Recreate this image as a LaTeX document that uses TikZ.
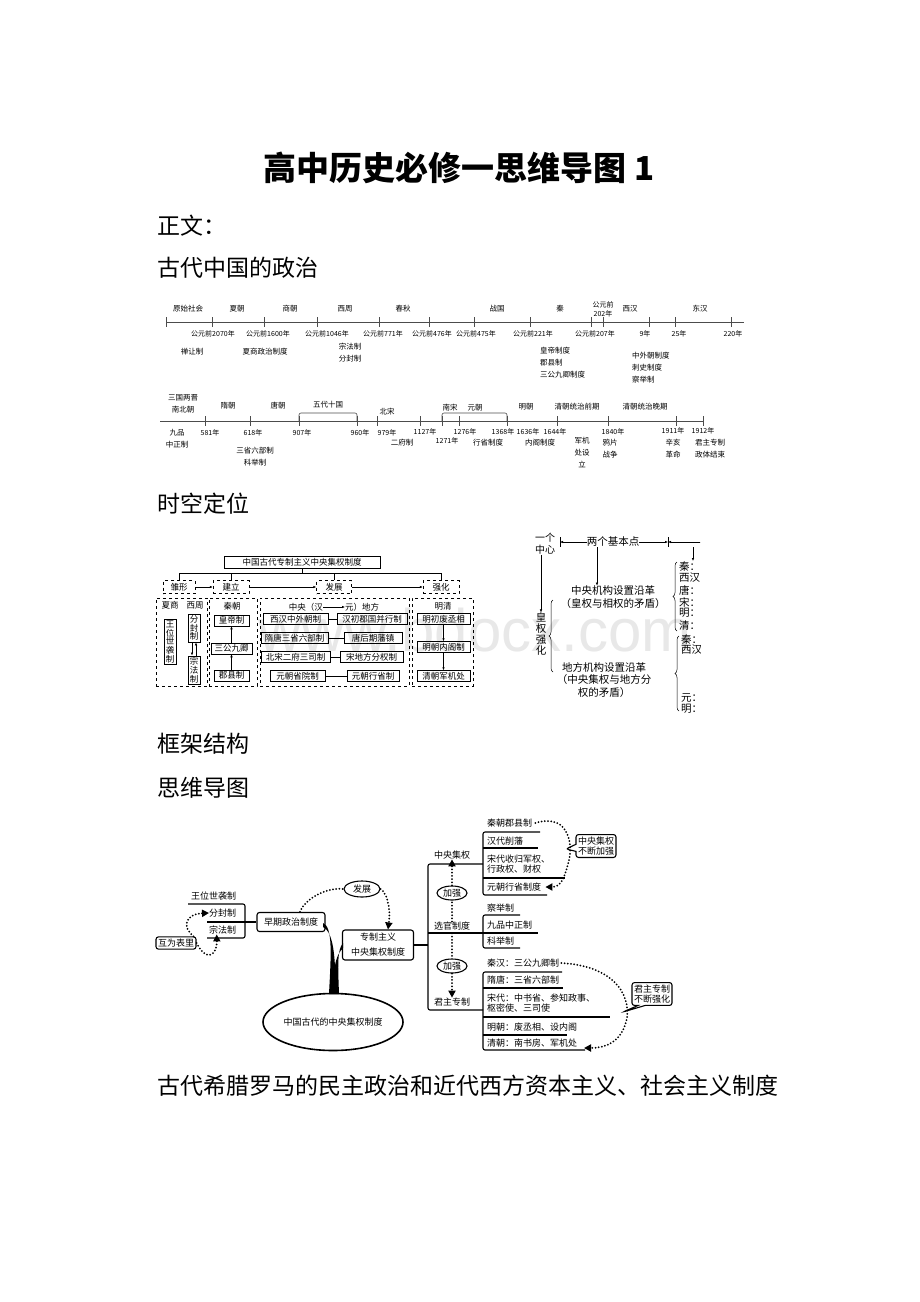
\documentclass[tikz,border=0pt]{standalone}
\usepackage{fontspec}
\setmainfont{Noto Sans CJK SC}
\newfontfamily\markfont{Liberation Sans}
\usetikzlibrary{positioning, arrows.meta, calc, shapes.geometric, shapes.callouts, decorations.pathreplacing}
\tikzset{
  heading/.style={anchor=west, inner sep=0pt, font=\fontsize{23}{25}\selectfont}, % lines of the page text
  lbl/.style={inner sep=0pt, align=center, font=\fontsize{7.5}{12}\selectfont}, % timeline texts
  tline/.style={draw=black!70, line width=0.6pt},
  tickmark/.style={draw=black!70, line width=0.6pt},
  fbox/.style={draw, line width=0.5pt, inner sep=1pt, minimum height=11pt, font=\fontsize{8.5}{9}\selectfont},
  dbox/.style={draw, dashed, line width=0.5pt, inner sep=1pt, font=\fontsize{8.5}{9}\selectfont},
  vbox/.style={draw, line width=0.5pt, inner sep=1.5pt, align=center, font=\fontsize{8.5}{8.8}\selectfont},
  ptext/.style={inner sep=0pt, font=\fontsize{8.5}{10}\selectfont},
  rtext/.style={inner sep=0pt, align=center, font=\fontsize{10.5}{12.5}\selectfont},
  arr/.style={-{Latex[length=3pt,width=2.5pt]}, line width=0.5pt},
  mbox/.style={draw, line width=1.1pt, rounded corners=2.5pt, inner sep=2pt, font=\fontsize{9}{15}\selectfont},
  mtext/.style={inner sep=0pt, anchor=west, align=left, font=\fontsize{9}{10.5}\selectfont},
  oval/.style={draw, ellipse, line width=1.1pt, inner sep=0pt, font=\fontsize{9}{10}\selectfont},
  dots/.style={line width=2pt, dash pattern=on 0pt off 3.2pt, line cap=round}, % dotted arrows of the mind map
  tri/.style={-{Triangle[length=7pt,width=7pt]}},
  rail/.style={line width=1.1pt, rounded corners=2pt},
}

\begin{document}
\begin{tikzpicture}[x=1pt, y=-1pt]
\useasboundingbox (0,0) rectangle (920,1302);

% page text
\node[inner sep=0pt, font=\fontsize{33}{36}\selectfont\bfseries] (title) at (459,168) {高中历史必修一思维导图 1};
\node[heading] (zhengwen) at (157,226) {正文：};
\node[heading] (gudai) at (157,268) {古代中国的政治};
\node[heading] (shikong) at (157,504) {时空定位};
\node[heading] (kuangjia) at (157,744) {框架结构};
\node[heading] (siwei) at (157,788) {思维导图};
\node[heading] (xila) at (157,1086) {古代希腊罗马的民主政治和近代西方资本主义、社会主义制度};

% timeline one
\coordinate (a0) at (166,322);
\coordinate (a1) at (744,322);
\draw[tline] (a0) -- (a1);
\foreach \x in {166,212,264,317,379,429,474,530,591,603,649,675,731}
  \draw[tickmark] (\x,317) -- (\x,327);
\foreach \x/\t [count=\i] in {188/原始社会, 237/夏朝, 290/商朝, 345/西周, 403/春秋, 497/战国, 560/秦, 630/西汉, 700/东汉}
  \node[lbl] (up\i) at (\x,309) {\t};
\node[lbl, font=\fontsize{7}{9}\selectfont] (up10) at (603,309) {公元前\\202年};
\foreach \x/\t [count=\i] in {213/公元前2070年, 268/公元前1600年, 327/公元前1046年, 383/公元前771年, 432/公元前476年, 476/公元前475年, 533/公元前221年, 595/公元前207年, 645/9年, 679/25年, 733/220年}
  \node[lbl, font=\fontsize{7}{9}\selectfont] (dn\i) at (\x,334) {\t};
\node[lbl] (shan) at (192,352) {禅让制};
\node[lbl] (xiashang) at (265,352) {夏商政治制度};
\node[lbl] (zongfen) at (350,353) {宗法制\\分封制};
\node[lbl, anchor=north west, align=left] (qinzhi) at (540,347) {皇帝制度\\郡县制\\三公九卿制度};
\node[lbl, anchor=north west, align=left] (hanzhi) at (632,352) {中外朝制度\\刺史制度\\察举制};

% timeline two
\coordinate (b0) at (160,421);
\coordinate (b1) at (703,421);
\draw[tline] (b0) -- (b1);
\foreach \x in {205,250,299,357,377,420,442,459,507,557,608,676,703}
  \draw[tickmark] (\x,416) -- (\x,426);
\draw[tline, rounded corners=2pt] (299,421) -- (299,413) -- (357,413) -- (357,421);
\draw[tline, rounded corners=2pt] (442,421) -- (442,413) -- (507,413) -- (507,421);
\node[lbl] (sanguo) at (183,404) {三国两晋\\南北朝};
\foreach \x/\y/\t [count=\i] in {228/406/隋朝, 278/406/唐朝, 328/405/五代十国, 387/412/北宋, 450/408/南宋, 475/408/元朝, 526/407/明朝, 577/407/清朝统治前期, 645/407/清朝统治晚期}
  \node[lbl] (dyn\i) at (\x,\y) {\t};
\foreach \x/\y/\t [count=\i] in {210/433/581年, 253/433/618年, 302/433/907年, 360/433/960年, 387/433/979年, 425/432/1127年, 447/441/1271年, 465/432/1276年, 503/432/1368年, 528/432/1636年, 555/432/1644年, 613/432/1840年, 673/431/1911年, 703/431/1912年}
  \node[lbl, font=\fontsize{7}{9}\selectfont] (yr\i) at (\x,\y) {\t};
\node[lbl] (jiupin) at (177,439) {九品\\中正制};
\node[lbl] (erfu) at (402,443) {二府制};
\node[lbl] (sansheng) at (255,457) {三省六部制\\科举制};
\node[lbl] (xingsheng) at (488,443) {行省制度};
\node[lbl] (neige) at (540,443) {内阁制度};
\node[lbl, anchor=north] (junji) at (582,437) {军机\\处设\\立};
\node[lbl] (yapian) at (610,449) {鸦片\\战争};
\node[lbl] (xinhai) at (673,449) {辛亥\\革命};
\node[lbl] (zhuanjie) at (710,449) {君主专制\\政体结束};

% watermark
\node[inner sep=0pt, text=black!9, font=\markfont\fontsize{60}{60}\selectfont] (mark) at (475,630) {www.bdocx.com};

% framework, left
\node[fbox, minimum width=156pt, minimum height=12pt] (root) at (302,562) {中国古代专制主义中央集权制度};
\node[dbox, minimum width=32pt, minimum height=13pt] (s1) at (179,587) {雏形};
\node[dbox, minimum width=36pt, minimum height=13pt] (s2) at (231,587) {建立};
\node[dbox, minimum width=35pt, minimum height=13pt] (s3) at (334,587) {发展};
\node[dbox, minimum width=36pt, minimum height=13pt] (s4) at (441,587) {强化};
\foreach \s in {s1,s2,s3,s4}
  \draw[line width=0.5pt] (root.south) -- ++(0,5) -| (\s.north);
\draw[arr] (s1) -- (s2);
\draw[arr] (s2) -- (s3);
\draw[arr] (s3) -- (s4);
\node[dbox, minimum width=51pt, minimum height=88pt] (p1) at (181.5,642) {};
\node[dbox, minimum width=48pt, minimum height=88pt] (p2) at (233,642) {};
\node[dbox, minimum width=149pt, minimum height=88pt] (p3) at (334.5,642) {};
\node[dbox, minimum width=61pt, minimum height=88pt] (p4) at (442.5,642) {};
% xia shang, xi zhou
\node[ptext] (xs) at (170,605) {夏商};
\node[ptext] (xz) at (195,605) {西周};
\node[vbox] (wangwei) at (170,642) {王\\位\\世\\袭\\制};
\node[vbox] (fenfeng) at (194,628) {分\\封\\制};
\node[vbox] (zongfa) at (194,670) {宗\\法\\制};
\draw[arr] ([xshift=-2pt]fenfeng.south) -- ([xshift=-2pt]zongfa.north);
\draw[arr] ([xshift=2pt]zongfa.north) -- ([xshift=2pt]fenfeng.south);
% qin
\node[ptext] (qinchao) at (232,606) {秦朝};
\node[fbox, minimum width=35pt] (huangdi) at (231.5,620.5) {皇帝制};
\node[fbox, minimum width=41pt] (sangong) at (231.5,648.5) {三公九卿};
\node[fbox, minimum width=35pt] (junxian) at (231.5,675.5) {郡县制};
\draw[arr] (junxian) -- (sangong);
\draw[arr] (sangong) -- (huangdi);
% han to yuan
\node[ptext, anchor=east] (hdl) at (323,607) {中央（汉};
\node[ptext, anchor=west] (hdr) at (345,607) {元）地方};
\draw[arr] (hdl) -- (hdr);
\node[fbox, minimum width=65pt] (l1) at (295.5,619) {西汉中外朝制};
\node[fbox, minimum width=67pt] (l2) at (294.5,638) {隋唐三省六部制};
\node[fbox, minimum width=69pt] (l3) at (295.5,657) {北宋二府三司制};
\node[fbox, minimum width=55pt] (l4) at (297.5,676) {元朝省院制};
\node[fbox, minimum width=70pt] (r1) at (372,619) {汉初郡国并行制};
\node[fbox, minimum width=58pt] (r2) at (373,638) {唐后期藩镇};
\node[fbox, minimum width=63pt] (r3) at (371.5,657) {宋地方分权制};
\node[fbox, minimum width=52pt] (r4) at (373,676) {元朝行省制};
\foreach \i in {1,2,3,4}
  \draw[line width=0.5pt] (l\i) -- (r\i);
% ming qing
\node[ptext] (mingqing) at (443,606) {明清};
\node[fbox, minimum width=53pt] (m1) at (443.5,619) {明初废丞相};
\node[fbox, minimum width=53pt] (m2) at (443.5,647) {明朝内阁制};
\node[fbox, minimum width=53pt] (m3) at (443.5,676) {清朝军机处};
\draw[arr] (m1) -- (m2);
\draw[arr] (m2) -- (m3);

% framework, right (cut off at the right edge)
\begin{scope}
\clip (470,525) rectangle (700,715);
\node[rtext, font=\fontsize{10}{12}\selectfont] (yige) at (545,544) {一个\\中心};
\coordinate (barL) at (560,542);
\coordinate (barR) at (668,542);
\coordinate (cut) at (705,542);
\draw[line width=0.5pt] ([yshift=5pt]barL) -- ([yshift=-5pt]barL);
\draw[line width=0.5pt] ([yshift=5pt]barR) -- ([yshift=-5pt]barR);
\node[rtext] (liang) at (613,542) {两个基本点};
\draw[arr] (liang.west) -- (barL);
\draw[arr] (liang.east) -- (barR);
\draw[arr] (cut) -- (barR);
\coordinate (sanA) at (693,547);
\coordinate (sanB) at (693,561);
\draw[arr] (sanA) -- (sanB);
\node[rtext, font=\fontsize{10.5}{11}\selectfont] (huang) at (541,634) {皇\\权\\强\\化};
\draw[arr] (yige.south -| huang.north) -- (huang.north);
\node[rtext] (zhongyang) at (613,597) {中央机构设置沿革\\（皇权与相权的矛盾）};
\draw[arr] ([xshift=-16pt]liang.south) -- ([xshift=-16pt]zhongyang.north);
\node[rtext] (difang) at (604,680) {地方机构设置沿革\\（中央集权与地方分\\权的矛盾）};
\draw[line width=0.5pt, decorate, decoration={brace, amplitude=4pt}] (553,672) -- (553,600);
\draw[line width=0.5pt, decorate, decoration={brace, amplitude=4pt}] (677,631) -- (677,562);
\foreach \t/\y [count=\i] in {秦：/567, 西汉：/578, 唐：/590, 宋：/602, 明：/613, 清：/625}
  \node[rtext, anchor=west] (ra\i) at (679,\y) {\t};
\draw[line width=0.5pt, decorate, decoration={brace, amplitude=4pt}] (679,711) -- (679,636);
\foreach \t/\y [count=\i] in {秦：/639, 西汉：/650, 元：/698, 明：/709}
  \node[rtext, anchor=west] (rb\i) at (681,\y) {\t};
\end{scope}

% mind map, left part
\node[mtext] (wangxi) at (191,896) {王位世袭制};
\draw[rail] (188,904) -- (245,904) -- (245,938) -- (207,938);
\node[mtext] (fenf) at (209,913) {分封制};
\node[mtext] (zongf) at (209,930) {宗法制};
\node[mbox] (huwei) at (176,943) {互为表里};
\node[mbox, minimum width=68pt, minimum height=19pt] (zaoqi) at (291,922) {早期政治制度};
\coordinate (fork) at (207,922);
\draw[rail] (fork) -- (zaoqi.west);
\draw[dots, tri] ([xshift=-3pt]huwei.north east) .. controls (181,926) and (186,914) .. (fenf.west);
\draw[dots, tri] (huwei.east) .. controls (206,962) and (217,956) .. ([xshift=-6pt]zongf.south);
\node[oval, minimum width=36pt, minimum height=16pt] (fazhan) at (362,889) {发展};
\node[mbox, align=center, minimum width=71pt, minimum height=30pt] (zhuanzhi) at (378,945) {专制主义\\中央集权制度};
\draw[dots] ([xshift=9pt]zaoqi.north) .. controls (305,898) and (328,887) .. (fazhan.west);
\draw[dots, tri] (fazhan.east) .. controls (386,892) and (391,906) .. ([xshift=10pt]zhuanzhi.north);
\node[oval, line width=1.6pt, minimum width=135pt, minimum height=57pt] (zhongguo) at (333,1022) {中国古代的中央集权制度};
% trunk
\fill (323,923) .. controls (333,927) and (331,955) .. (329,994) -- (339,994)
  .. controls (338,966) and (337,950) .. (343,943) -- (343,948)
  .. controls (339,952) and (336,958) .. (335,966)
  .. controls (334,950) and (332,931) .. (323,927) -- cycle;

% mind map, right part
\draw[rail] (zhuanzhi.east) -- (428,945);
\draw[rail] (483,864) -- (428,864) -- (428,1010) -- (483,1010);
\draw[rail] (428,933) -- (483,933);
\node[mtext, anchor=center] (jiquan) at (452,855) {中央集权};
\node[mtext, anchor=center] (xuanguan) at (452,926) {选官制度};
\node[mtext, anchor=center] (junzhu) at (452,1002) {君主专制};
\node[oval, minimum width=30pt, minimum height=14pt] (jq1) at (452,893) {加强};
\node[oval, minimum width=30pt, minimum height=14pt] (jq2) at (452,966) {加强};
\draw[dots] (xuanguan.north) -- (jq1.south);
\draw[dots, tri] (jq1.north) -- (jiquan.south);
\draw[dots] ([yshift=-3pt]xuanguan.south) -- (jq2.north);
\draw[dots, tri] (jq2.south) -- (junzhu.north);
% central power
\draw[rail] (540,832) -- (483,832) -- (483,895) -- (547,895);
\draw[rail] (483,848) -- (538,848);
\draw[rail] (483,878) -- (565,878);
\node[mtext] (qinjx) at (487,823) {秦朝郡县制};
\node[mtext] (hanxf) at (487,841) {汉代削藩};
\node[mtext] (songsh) at (487,864) {宋代收归军权、\\行政权、财权};
\node[mtext] (yuanxs) at (487,887) {元朝行省制度};
\draw[dots, tri] ([xshift=3pt]qinjx.east) .. controls (572,812) and (573,850) .. (568,864)
  .. controls (564,880) and (560,887) .. ([xshift=4pt]yuanxs.east);
\node[mbox, align=center, font=\fontsize{9}{10.5}\selectfont, rectangle callout, callout absolute pointer={(566,849)}] (callA) at (596,846) {中央集权\\不断加强};
% officials
\draw[rail] (520,915) -- (483,915) -- (483,948) -- (520,948);
\draw[rail] (483,933) -- (538,933);
\node[mtext] (chaju) at (487,908) {察举制};
\node[mtext] (jiupinz) at (487,925) {九品中正制};
\node[mtext] (keju) at (487,941) {科举制};
% monarch
\draw[rail] (562,972) -- (483,972) -- (483,1050) -- (585,1050);
\draw[rail] (483,988) -- (563,988);
\draw[rail] (483,1017) -- (610,1017);
\draw[rail] (483,1035) -- (567,1035);
\node[mtext] (qinhan) at (487,963) {秦汉：三公九卿制};
\node[mtext] (suitang) at (487,980) {隋唐：三省六部制};
\node[mtext] (songdai) at (487,1003) {宋代：中书省、参知政事、\\枢密使、三司使};
\node[mtext] (mingchao) at (487,1027) {明朝：废丞相、设内阁};
\node[mtext] (qingchao) at (487,1043) {清朝：南书房、军机处};
\coordinate (qingend) at (584,1048);
\draw[dots, tri] ([xshift=2pt]qinhan.east) .. controls (612,966) and (630,992) .. (627,1018)
  .. controls (622,1042) and (606,1048) .. (qingend);
\node[mbox, align=center, font=\fontsize{9}{10.5}\selectfont, rectangle callout, callout absolute pointer={(623,1012)}] (callC) at (652,994) {君主专制\\不断强化};
\end{tikzpicture}
\end{document}
